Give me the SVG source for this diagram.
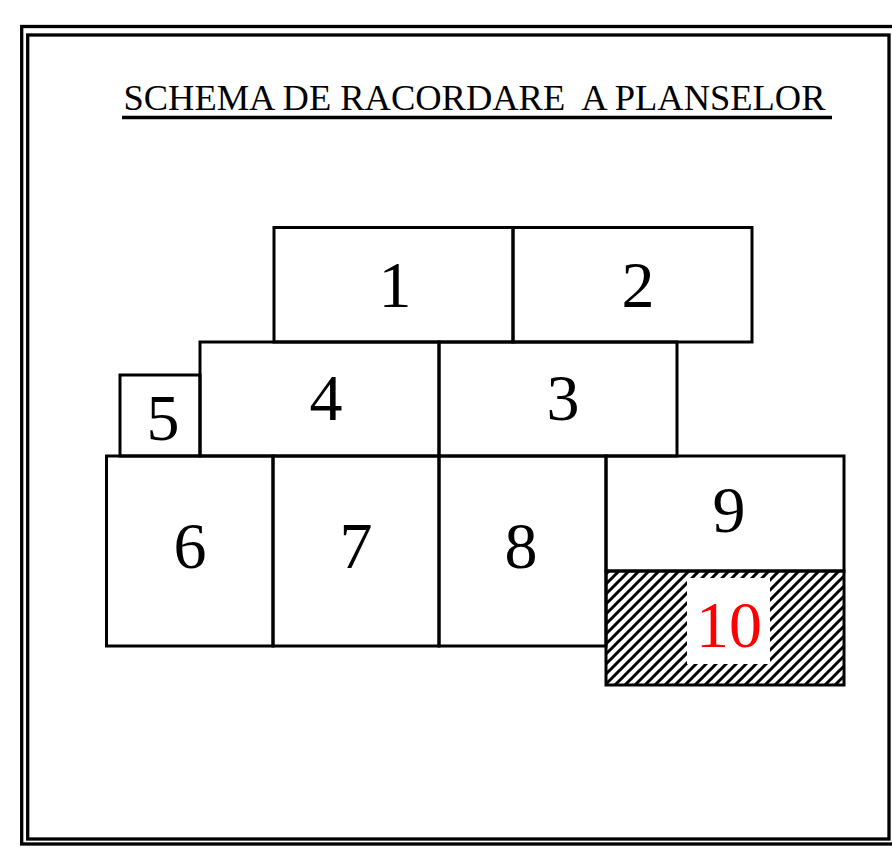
<svg xmlns="http://www.w3.org/2000/svg" width="892" height="854" viewBox="0 0 892 854">
<style>
.frame{fill:none;stroke:#000;stroke-width:3.3}
.box{fill:none;stroke:#000;stroke-width:3}
.num{font-family:"Liberation Serif","Times New Roman",serif;font-size:66px;fill:#000;text-anchor:middle}
.title{font-family:"Liberation Serif","Times New Roman",serif;font-size:36.5px;fill:#000;white-space:pre}
</style>
<defs>
<pattern id="hatch" patternUnits="userSpaceOnUse" width="10" height="10">
<path d="M-1,11 L11,-1 M-3,3 L3,-3 M7,13 L13,7" stroke="#000" stroke-width="3"/>
</pattern>
</defs>
<rect width="892" height="854" fill="#fff"/>
<g id="frame">
<rect class="frame" x="21.7" y="26.5" width="880" height="817.5"/>
<rect class="frame" x="27.7" y="35" width="861.3" height="804"/>
</g>
<g id="title">
<text class="title" x="123.5" y="110" xml:space="preserve" textLength="702" lengthAdjust="spacingAndGlyphs">SCHEMA DE RACORDARE  A PLANSELOR</text>
<line x1="122" y1="117.5" x2="832" y2="117.5" stroke="#000" stroke-width="3.3"/>
</g>
<g id="sheet10">
<rect x="606" y="571" width="238" height="114" fill="url(#hatch)"/>
<rect x="687" y="578" width="83" height="86" fill="#fff"/>
<rect class="box" x="606" y="571" width="238" height="114"/>
<text class="num" x="729" y="647" style="fill:#f00">10</text>
</g>
<g id="sheet1">
<rect class="box" x="274" y="227.5" width="239" height="114.5"/>
<text class="num" x="395" y="307">1</text>
</g>
<g id="sheet2">
<rect class="box" x="513" y="227.5" width="239" height="114.5"/>
<text class="num" x="638" y="307">2</text>
</g>
<g id="sheet4">
<rect class="box" x="200" y="342" width="239" height="114"/>
<text class="num" x="326" y="420">4</text>
</g>
<g id="sheet3">
<rect class="box" x="439" y="342" width="238" height="114"/>
<text class="num" x="563" y="420">3</text>
</g>
<g id="sheet5">
<rect class="box" x="120" y="375" width="80" height="81"/>
<text class="num" x="163" y="440">5</text>
</g>
<g id="sheet6">
<rect class="box" x="106.5" y="456" width="166.5" height="190"/>
<text class="num" x="190" y="568">6</text>
</g>
<g id="sheet7">
<rect class="box" x="273" y="456" width="166" height="190"/>
<text class="num" x="356" y="568">7</text>
</g>
<g id="sheet8">
<rect class="box" x="439" y="456" width="167" height="190"/>
<text class="num" x="521" y="568">8</text>
</g>
<g id="sheet9">
<rect class="box" x="606" y="456" width="238" height="115"/>
<text class="num" x="729" y="532">9</text>
</g>
<g id="connectors"></g>
</svg>
